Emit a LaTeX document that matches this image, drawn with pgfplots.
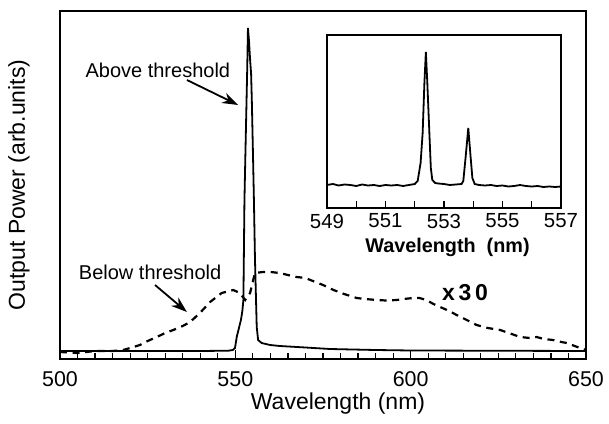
\documentclass[border=0pt]{standalone}
\usepackage{fontspec}
\setmainfont{Liberation Sans}
\usepackage{pgfplots}
\usepackage{pgfplotstable}
\pgfplotsset{compat=1.18}
\usetikzlibrary{arrows.meta}

% above threshold (heights in arbitrary units)
\pgfplotstableread{
x y
500 8
520 8
540 8
548 8.3
549.3 9
549.9 11
550.4 22
551.1 32
551.6 39
552.0 48
552.3 59
552.6 159
552.9 210
553.2 259
553.4 292
553.6 331
553.9 318
554.2 300
554.5 285
554.7 259
555.0 210
555.3 159
555.6 100
555.9 59
556.1 32
556.5 19
557.5 16
559.9 14
562.7 13
570 11.5
577 10
590 9
600 8.5
650 8
}\abovetab

% below threshold, x30
\pgfplotstableread{
x y
500 7
505 6
510 8
515 8
518 9
520 11
522.8 14
525 18
527.6 22
530 26
532.3 29
535 33
537.1 37
539.9 46
542.8 57
546.1 66
549.4 69
551.3 66
552.8 59
554.2 66
555.6 86
557.9 87
560 87
562.7 86
565 84
567.5 82
570 81
572.1 78
575 74
578 69
581 65
584.6 61
587 60
590.3 59
593 58.5
596 59
598 60
600.7 61
602.5 61
604.5 59
606.5 55
608.4 52
611 48
613.1 44
616 39
618.8 34
622 31
625.5 29
628 26
631.2 22
634 21
635.9 22
638 20
640.6 19
643 17
644.5 16
646 14
648.3 11
650 9
}\belowtab

% inset, high resolution spectrum
\pgfplotstableread{
x y
549.0 23
549.2 24
549.4 22.5
549.6 23.5
549.8 23
550.0 22
550.2 23.5
550.4 22.5
550.6 23
550.8 22
551.0 23
551.2 22.5
551.4 23
551.6 22
551.8 23
552.0 24
552.1 27
552.2 45
552.27 75
552.33 125
552.38 156
552.43 125
552.50 75
552.55 40
552.6 28
552.7 25
552.8 24.5
553.0 24
553.2 23
553.4 23.5
553.6 24
553.66 27
553.74 51
553.83 80
553.91 51
553.97 30
554.05 24
554.2 23
554.4 22.5
554.6 23
554.8 22
555.0 22.5
555.2 21.5
555.4 22
555.6 23
555.8 22
556.0 21.5
556.2 22
556.4 21
556.6 21.5
556.8 21
557.0 21.5
}\insettab

\begin{document}
\begin{tikzpicture}
\path[use as bounding box] (-30pt,-32pt) rectangle (274.5pt,179.5pt);
\begin{axis}[
  at={(0,0)}, anchor=south west,
  scale only axis, width=263pt, height=174pt,
  xmin=500, xmax=650, ymin=0, ymax=348,
  axis line style={line width=0.9pt},
  xtick={500,550,600,650},
  minor x tick num=9,
  ytick=\empty,
  xtick pos=bottom,
  tick align=inside,
  major tick length=4.5pt, minor tick length=3pt,
  every tick/.style={black, line width=0.6pt},
  /pgf/number format/assume math mode=true,
  xticklabel style={font=\fontsize{10.7}{12}\selectfont, anchor=center, yshift=-10.25pt},
  xlabel={Wavelength (nm)},
  xlabel style={font=\fontsize{11.5}{13}\selectfont, at={(axis description cs:0.5285,-0.1293)}, anchor=center},
  ylabel={Output Power (arb.units)},
  ylabel style={font=\fontsize{11.5}{13}\selectfont, at={(axis description cs:-0.078,0.5)}, anchor=center},
  clip=false,
]
\addplot[black, line width=0.9pt] table {\abovetab};
\addplot[black, line width=1.1pt, dash pattern=on 3.5pt off 2.8pt] table {\belowtab};

\node[font=\fontsize{10}{12}\selectfont] at (axis cs:527.9,289) {Above threshold};
\draw[line width=0.9pt, -{Stealth[length=8pt, width=5.5pt]}] (axis cs:536.2,279) -- (axis cs:550.8,254);
\node[font=\fontsize{10}{12}\selectfont] at (axis cs:525.7,87) {Below threshold};
\draw[line width=0.9pt, -{Stealth[length=8pt, width=5.5pt]}] (axis cs:527.1,74) -- (axis cs:536.2,47);
\node[font=\fontsize{11.5}{12}\selectfont\bfseries] at (axis cs:615.5,66) {x\,3\,0};
\end{axis}

\begin{axis}[
  at={(133.5pt,75.5pt)}, anchor=south west,
  scale only axis, width=117pt, height=86.5pt,
  xmin=549, xmax=557, ymin=0, ymax=173,
  axis background/.style={fill=white},
  axis line style={line width=0.9pt},
  xtick={549,551,...,557},
  minor xtick={550,552,554,556},
  ytick=\empty,
  xtick pos=bottom,
  tick align=inside,
  major tick length=3.5pt, minor tick length=3.5pt,
  every tick/.style={black, line width=0.6pt},
  /pgf/number format/assume math mode=true,
  xticklabel style={font=\fontsize{10.2}{12}\selectfont, anchor=center, yshift=-6.5pt},
  xlabel={Wavelength\ \ (nm)},
  xlabel style={font=\fontsize{9.9}{12}\selectfont\bfseries, at={(axis description cs:0.515,-0.225)}, anchor=center},
]
\addplot[black, line width=0.9pt] table {\insettab};
\end{axis}
\end{tikzpicture}
\end{document}
